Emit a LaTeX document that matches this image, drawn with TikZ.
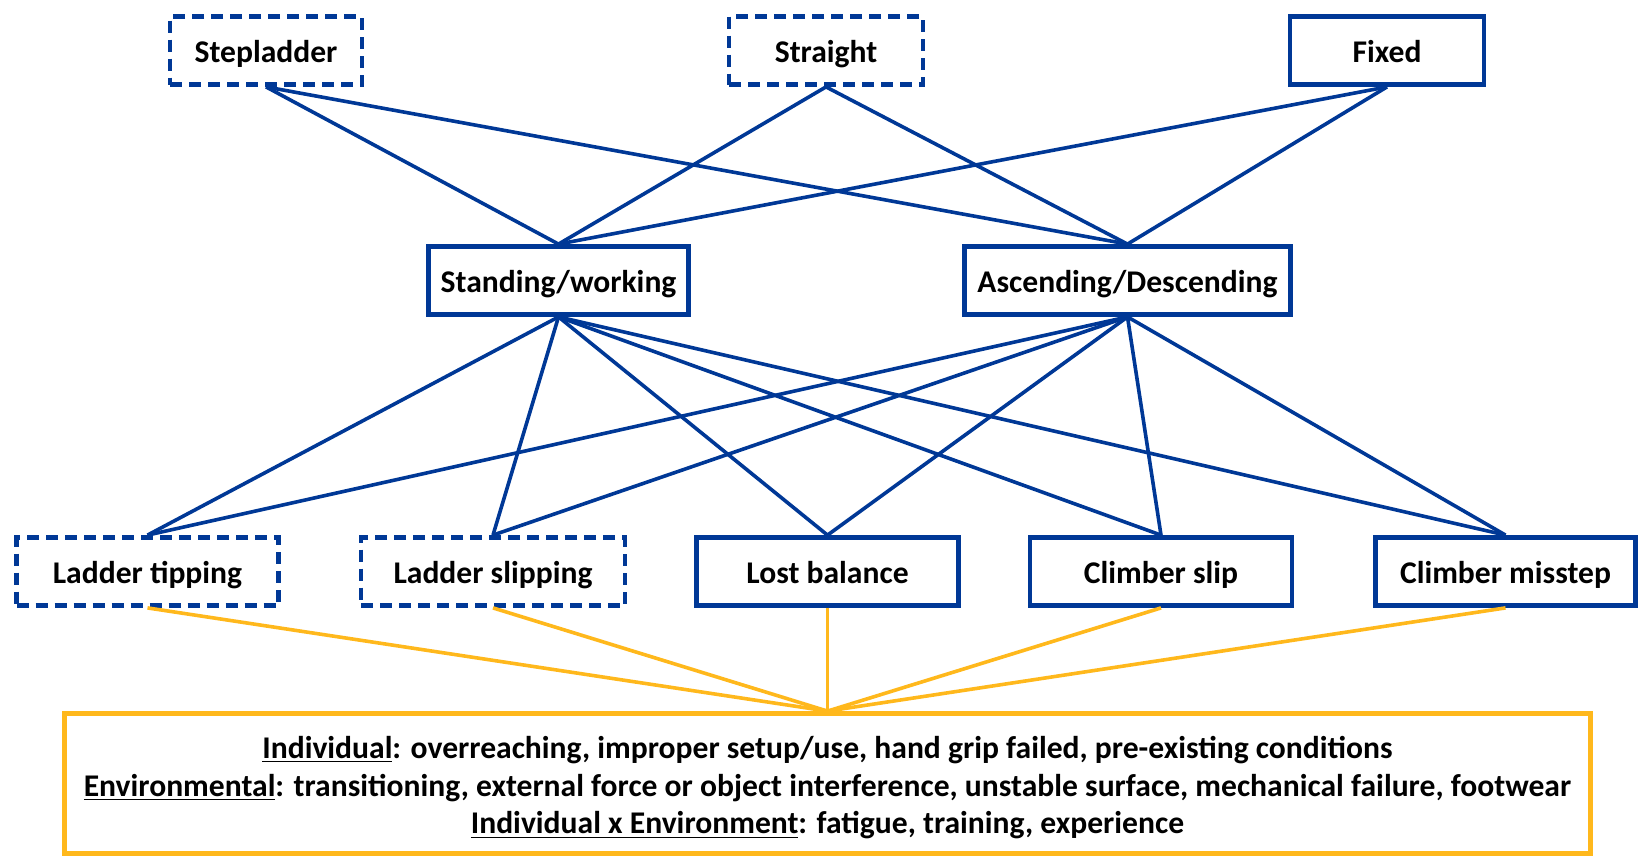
\documentclass[tikz,border=0pt]{standalone}
\usepackage{fontspec}
\setmainfont{Carlito}
\usepackage{xcolor}
\usepackage{tikz}
\usetikzlibrary{positioning}
\definecolor{LadderBlue}{RGB}{0,56,150}
\definecolor{FactorGold}{RGB}{255,184,28}
\tikzset{
    box/.style={rectangle, draw=LadderBlue, line width=2.4pt, fill=white, inner sep=0pt,
        minimum height=34pt, text height=13pt, text depth=1pt,
        font=\bfseries\fontsize{15.8}{18}\selectfont, text=black},
    dashbox/.style={box, dash pattern=on 6pt off 3.5pt},
    link/.style={draw=LadderBlue, line width=1.8pt},
    goldlink/.style={draw=FactorGold, line width=1.8pt}
}

\begin{document}
\begin{tikzpicture}[x=0.5pt, y=-0.5pt]
    \useasboundingbox (0,0) rectangle (1638,857);

    % --- ladder types ---
    \node[dashbox, minimum width=96pt] (stepladder) at (266,50.5) {Stepladder};
    \node[dashbox, minimum width=97pt] (straight) at (826,50.5) {Straight};
    \node[box, minimum width=97pt] (fixed) at (1387,50.5) {Fixed};

    % --- activity ---
    \node[box, minimum width=130pt] (standing) at (558.5,280.5) {Standing/working};
    \node[box, minimum width=163pt] (ascending) at (1127.5,280.5) {Ascending/Descending};

    % --- fall mechanisms ---
    \node[dashbox, minimum width=131pt] (tipping) at (147.5,571.5) {Ladder tipping};
    \node[dashbox, minimum width=132pt] (slipping) at (493,571.5) {Ladder slipping};
    \node[box, minimum width=131pt] (balance) at (827.5,571.5) {Lost balance};
    \node[box, minimum width=131pt] (slip) at (1161,571.5) {Climber slip};
    \node[box, minimum width=130pt] (misstep) at (1505.5,571.5) {Climber misstep};

    % --- contributing factors ---
    \node[box, draw=FactorGold, minimum width=763pt, minimum height=70pt, align=center,
        text height=, text depth=,
        font=\bfseries\fontsize{15.8}{18.8}\selectfont] (factors) at (827.5,783.5)
        {\rule{0pt}{15.5pt}\underline{Individual}: overreaching, improper setup/use, hand grip failed, pre-existing conditions\\
         \underline{Environmental}: transitioning, external force or object interference, unstable surface, mechanical failure, footwear\\
         \underline{Individual x Environment}: fatigue, training, experience};

    % --- connectors ---
    \foreach \top in {stepladder,straight,fixed}
        \foreach \mid in {standing,ascending}
            \draw[link] (\top.south) -- (\mid.north);
    \foreach \mid in {standing,ascending}
        \foreach \low in {tipping,slipping,balance,slip,misstep}
            \draw[link] (\mid.south) -- (\low.north);
    \foreach \low in {tipping,slipping,balance,slip,misstep}
        \draw[goldlink] (\low.south) -- (factors.north);

\end{tikzpicture}
\end{document}
